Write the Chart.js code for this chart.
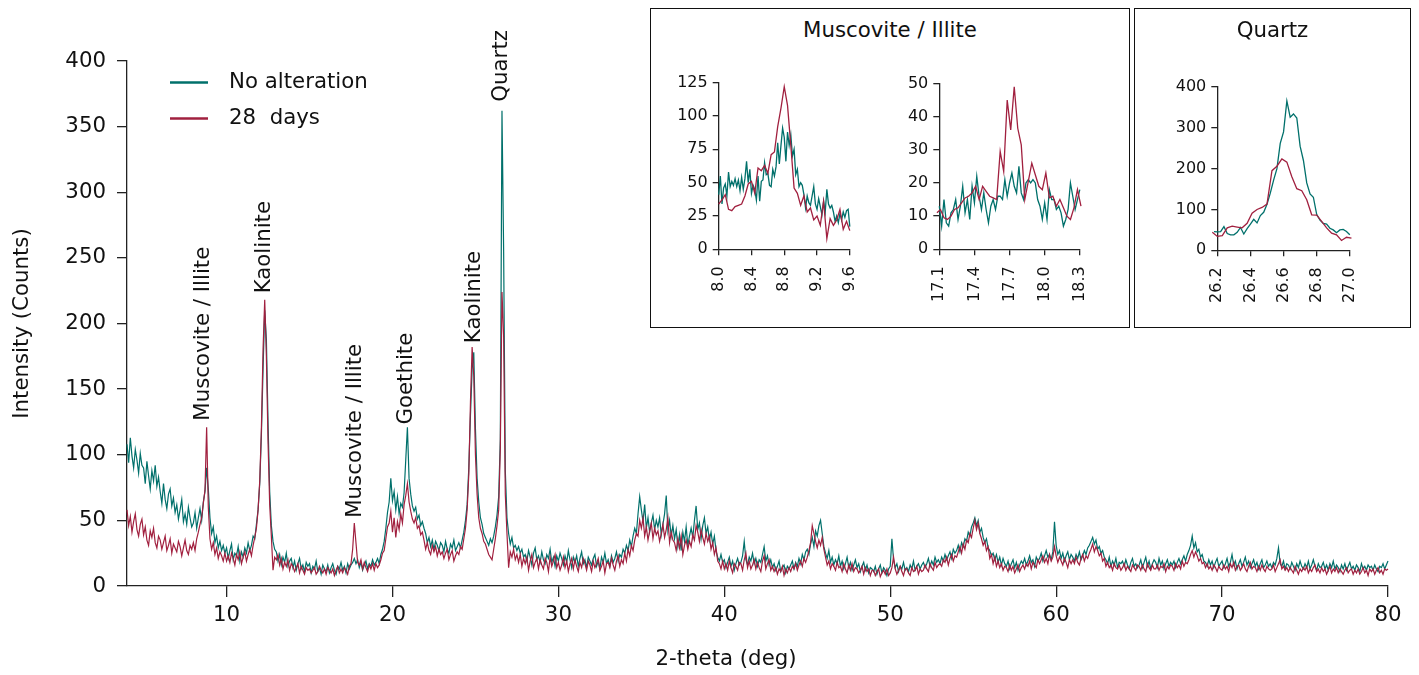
<!DOCTYPE html>
<html>
<head>
<meta charset="utf-8">
<script src="https://cdn.jsdelivr.net/npm/chart.js@4.4.1/dist/chart.umd.min.js"></script>
<style>
  body { margin: 0; background: #fff; font-family: 'DejaVu Sans', sans-serif; }
  canvas { position: absolute; }
  .box { position: absolute; box-sizing: border-box; border: 1.5px solid #111; background: #fff; }
  .box-title { position: absolute; left: 0; right: 0; top: 8px; text-align: center; font-size: 21.3px; line-height: 26px; color: #111; }
</style>
</head>
<body>
<canvas id="main" width="1419" height="675" style="left:0;top:0"></canvas>
<div class="box" style="left:650px;top:8px;width:480px;height:320px"><div class="box-title">Muscovite / Illite</div></div>
<div class="box" style="left:1134px;top:8px;width:277px;height:320px"><div class="box-title">Quartz</div></div>
<canvas id="inset-mi1" width="225" height="260" style="left:655px;top:60px"></canvas>
<canvas id="inset-mi2" width="225" height="260" style="left:885px;top:60px"></canvas>
<canvas id="inset-qz" width="240" height="260" style="left:1140px;top:60px"></canvas>
<script>
const seriesNames = ['No alteration', '28  days'];
const tealColor = '#00706b';
const redColor = '#a1203f';
const textColor = '#111';
const fontFamily = "'DejaVu Sans', sans-serif";

// main scan: 4.0-27.5 and 27.6-80.0, both at 0.1 deg
const lowStart = 4.0, lowStep = 0.1;
const highStart = 27.6, highStep = 0.1;

const noAlterationLow = [
  108,94,113,99,90,104,96,86,101,92,     // 4
  90,78,95,84,74,88,80,92,76,83,         // 5
  72,63,78,66,59,70,74,61,67,56,         // 6
  62,51,58,66,49,55,47,60,52,45,         // 7
  48,56,44,52,59,50,64,72,90,74,         // 8
  52,40,45,33,38,29,34,27,31,25,         // 9
  29,21,27,32,20,25,23,30,19,26,         // 10
  22,29,25,33,27,31,38,36,47,58,         // 11
  78,115,165,210,188,125,72,46,34,28,    // 12
  26,19,24,16,22,18,25,15,19,21,         // 13
  14,19,12,17,21,13,16,11,18,15,         // 14
  17,10,15,13,19,11,14,9,16,13,          // 15
  11,16,10,14,17,12,9,15,13,18,          // 16
  12,15,10,17,13,16,18,21,17,20,         // 17
  14,18,12,16,19,13,17,15,20,16,         // 18
  18,21,17,24,28,34,44,56,64,82,         // 19
  65,72,58,68,55,63,60,71,96,121,        // 20
  82,70,61,57,60,51,54,46,49,44,         // 21
  40,33,37,30,35,28,34,31,27,33,         // 22
  31,26,34,28,25,32,29,35,27,30,         // 23
  33,29,35,41,50,62,90,130,165,178,      // 24
  120,82,64,52,47,40,37,34,31,36,        // 25
  33,38,45,54,68,112,362,255,88,52,      // 26
  40,32,37,29,31,27                      // 27.0-27.5
];
const days28Low = [
  58,46,53,41,49,55,43,38,47,51,         // 4
  39,45,35,31,42,37,44,33,29,38,         // 5
  35,28,33,38,27,31,36,25,32,29,         // 6
  26,34,30,23,29,35,27,24,31,28,         // 7
  33,27,36,41,47,52,63,73,121,60,        // 8
  36,28,33,24,29,21,26,23,19,25,         // 9
  19,23,18,25,21,16,24,20,26,17,         // 10
  22,26,19,24,28,23,31,37,44,58,         // 11
  80,120,180,218,175,110,62,38,12,22,    // 12
  20,24,16,21,13,18,15,20,12,17,         // 13
  15,11,14,17,10,15,12,9,14,12,          // 14
  13,10,12,14,9,11,15,12,10,13,          // 15
  9,14,12,10,13,8,12,15,10,13,           // 16
  10,14,12,9,15,17,28,48,33,18,          // 17
  16,20,13,18,14,11,16,13,17,12,         // 18
  17,14,16,20,25,27,36,45,48,57,         // 19
  41,52,37,49,43,55,48,62,69,78,         // 20
  64,57,51,48,52,44,46,39,41,35,         // 21
  28,33,27,24,31,26,30,23,28,24,         // 22
  26,21,25,28,20,24,27,19,23,26,         // 23
  24,30,28,36,44,58,85,140,182,160,      // 24
  100,70,52,44,40,34,32,28,24,22,        // 25
  20,28,36,46,58,105,224,190,70,40,      // 26
  14,26,22,28,20,24                      // 27.0-27.5
];
const noAlterationHigh = [
  30,25,28,22,                          // 27.6-27.9
  24,19,27,22,16,25,29,20,23,18,        // 28
  26,20,17,24,21,28,18,22,15,23,        // 29
  19,25,21,16,23,18,27,20,14,22,        // 30
  18,23,15,21,26,17,20,14,22,19,        // 31
  16,21,24,15,19,13,22,18,25,17,        // 32
  20,15,23,18,21,26,19,24,22,28,        // 33
  25,31,27,35,30,38,44,40,55,68,        // 34
  58,49,62,44,52,41,48,54,43,50,        // 35
  45,52,39,47,55,69,42,50,38,46,        // 36
  36,43,30,39,27,41,34,45,31,38,        // 37
  44,37,50,61,43,48,36,46,52,40,        // 38
  45,35,41,32,38,27,22,19,24,18,        // 39
  20,14,18,22,15,19,12,17,21,16,        // 40
  18,23,34,20,16,22,19,25,17,21,        // 41
  15,20,18,24,30,19,23,16,20,14,        // 42
  17,12,15,19,11,14,16,10,15,13,        // 43
  16,19,13,18,15,21,17,24,20,26,        // 44
  28,24,32,37,30,42,38,46,50,40,        // 45
  30,25,21,27,18,22,16,20,17,23,        // 46
  15,19,13,17,22,14,18,12,16,20,        // 47
  14,17,11,15,18,12,16,10,14,13,        // 48
  11,15,9,13,16,10,14,12,8,13,          // 49
  15,36,20,14,17,11,15,13,18,12,        // 50
  14,11,16,13,19,12,15,17,13,16,        // 51
  18,14,17,21,15,19,16,22,18,20,        // 52
  17,22,19,24,20,23,26,21,28,25,        // 53
  27,31,26,33,30,36,34,41,38,45,        // 54
  48,52,46,50,41,44,37,33,36,29,        // 55
  27,23,25,20,24,18,22,16,21,17,        // 56
  15,19,13,17,20,14,18,12,16,19,        // 57
  17,21,16,19,23,18,20,15,22,19,        // 58
  21,25,19,23,27,22,24,20,26,49,        // 59
  31,24,27,21,25,19,23,26,20,24,        // 60
  22,19,24,21,26,20,23,27,24,29,        // 61
  31,34,37,32,35,28,30,25,27,22,        // 62
  20,17,22,15,19,16,21,14,18,17,        // 63
  19,15,20,16,13,18,21,15,17,14,        // 64
  16,20,14,18,22,15,19,13,17,20,        // 65
  18,14,21,16,19,13,17,20,15,18,        // 66
  16,19,14,18,21,17,20,23,19,24,        // 67
  27,31,38,29,33,26,28,22,24,19,        // 68
  18,15,20,16,19,14,18,21,15,17,        // 69
  19,14,17,21,15,18,24,16,19,13,        // 70
  17,20,15,18,22,16,19,14,17,20,        // 71
  15,18,13,17,20,14,16,19,15,17,        // 72
  14,18,16,21,29,17,15,19,13,17,        // 73
  16,13,18,15,12,17,14,19,15,13,        // 74
  17,14,19,13,16,20,15,12,17,14,        // 75
  15,18,13,16,12,17,14,19,13,16,        // 76
  14,11,16,13,17,12,15,18,13,15,        // 77
  12,16,14,11,17,13,15,12,16,14,        // 78
  15,12,16,13,11,15,14,17,13,16,        // 79
  19                                    // 80
];
const days28High = [
  18,24,15,21,                          // 27.6-27.9
  17,22,12,19,24,14,18,21,13,20,        // 28
  16,13,21,18,11,22,15,19,24,14,        // 29
  18,12,16,22,14,19,11,17,21,13,        // 30
  20,15,11,18,14,21,17,12,19,16,        // 31
  11,19,14,17,21,12,15,19,10,17,        // 32
  18,14,21,16,12,19,23,15,20,17,        // 33
  25,19,28,23,31,27,35,40,38,50,        // 34
  44,52,38,45,35,42,48,36,44,39,        // 35
  42,34,40,47,37,43,52,33,41,35,        // 36
  33,27,36,29,38,24,31,35,28,34,        // 37
  30,39,35,46,41,34,43,37,32,40,        // 38
  34,38,28,33,24,29,19,17,13,19,        // 39
  13,17,12,19,14,10,17,15,12,18,        // 40
  17,12,20,25,14,19,13,16,20,13,        // 41
  18,14,11,19,23,13,17,20,12,15,        // 42
  11,14,9,13,11,15,8,13,10,14,          // 43
  11,15,13,17,12,16,19,15,21,18,        // 44
  22,27,33,46,40,34,29,35,31,37,        // 45
  28,22,16,19,13,17,15,12,18,14,        // 46
  15,11,17,13,10,16,12,17,11,14,        // 47
  13,10,12,15,9,14,11,13,8,12,          // 48
  12,8,11,13,7,10,12,9,13,8,            // 49
  10,14,22,13,9,12,15,11,8,13,          // 50
  13,10,8,14,11,12,15,9,13,11,          // 51
  12,16,13,11,17,14,12,18,14,16,        // 52
  17,15,20,18,22,16,21,24,19,23,        // 53
  22,26,30,25,32,28,35,33,40,37,        // 54
  44,50,43,48,40,36,31,34,27,30,        // 55
  21,24,17,22,15,19,14,17,12,15,        // 56
  14,11,16,12,15,10,13,16,11,14,        // 57
  16,13,17,15,19,13,18,16,14,20,        // 58
  17,20,23,18,21,17,24,19,22,30,        // 59
  23,18,22,19,16,21,18,14,20,17,        // 60
  20,17,22,18,16,21,24,19,23,21,        // 61
  25,28,32,26,30,27,23,25,19,21,        // 62
  15,18,14,16,12,17,14,13,16,12,        // 63
  14,17,12,15,13,11,16,14,12,16,        // 64
  15,12,16,13,11,17,14,12,16,13,        // 65
  13,16,12,15,14,17,11,15,13,16,        // 66
  15,12,17,14,16,13,19,15,18,17,        // 67
  20,24,27,22,26,23,19,21,17,18,        // 68
  14,17,13,15,12,16,14,11,15,13,        // 69
  12,16,13,15,11,17,14,18,12,15,        // 70
  16,12,14,17,13,11,15,18,13,15,        // 71
  14,11,15,12,16,13,11,15,13,12,        // 72
  13,16,11,14,17,20,13,15,12,14,        // 73
  11,14,12,10,15,12,9,13,11,14,         // 74
  12,15,10,13,11,14,16,11,13,10,        // 75
  14,11,13,9,12,15,10,13,11,14,         // 76
  10,13,11,9,12,14,10,12,13,9,          // 77
  12,10,13,9,11,14,10,12,8,13,          // 78
  11,13,9,12,14,10,12,9,13,12,          // 79
  13                                    // 80
];

const mainXTicks = [10, 20, 30, 40, 50, 60, 70, 80];

// peak annotations (text, 2-theta, intensity where text starts)
const peakNames = ['Muscovite / Illite', 'Kaolinite', 'Muscovite / Illite', 'Goethite', 'Kaolinite', 'Quartz'];
const peakTheta = [8.63, 12.31, 17.79, 20.86, 24.96, 26.58];
const peakLabelBase = [126, 223, 52, 123, 185, 369];

// inset: muscovite / illite 8.0-9.6
const mi1TealStart = 8.00, mi1TealStep = 0.02;
const mi1Teal = [41,55,34,46,49,40,58,47,51,48,53,47,52,44,54,45,53,66,50,60,
  42,48,45,37,55,36,51,52,65,56,57,48,47,60,55,62,80,64,78,91,
  84,66,88,78,86,70,75,56,60,47,50,48,41,31,40,35,33,40,47,34,
  30,38,32,26,36,28,45,34,31,33,28,21,25,20,27,22,28,24,29,30,17];
const mi1RedStart = 8.00, mi1RedStep = 0.04;
const mi1Red = [34,37,41,30,29,32,33,34,40,49,51,42,61,59,63,57,71,73,92,106,
  122,108,78,46,42,33,40,28,31,22,25,18,36,8,23,18,22,30,15,21,14];
const mi1Ticks = [8.0, 8.4, 8.8, 9.2, 9.6];

// inset: muscovite / illite 17.1-18.3
const mi2TealStart = 17.10, mi2TealStep = 0.02;
const mi2Teal = [13,7,15,8,7,11,12,15,9,13,19,11,15,9,19,14,22,16,12,17,
  12,8,13,15,12,16,16,15,21,16,20,23,19,17,25,17,15,20,21,20,
  21,20,15,13,9,14,9,18,15,15,12,13,11,7,9,12,20,16,12,15,18,19];
const mi2RedStart = 17.08, mi2RedStep = 0.03;
const mi2Red = [11,12,9.5,9,10,12,12.5,14,15.5,16,17,19,15,19,17.5,16,15.5,15,29.5,23.5,
  45,36,49,36.5,31.5,15,20.5,26,22.5,19,18,23,15.5,16,13,15,12.5,10,9,12.5,18,13];
const mi2Ticks = [17.1, 17.4, 17.7, 18.0, 18.3];

// inset: quartz 26.2-27.0
const qzTealStart = 26.18, qzTealStep = 0.02;
const qzTeal = [46,45,46,58,41,38,38,44,56,40,53,64,76,67,85,93,113,140,172,200,
  262,290,366,326,334,324,255,220,165,138,130,88,74,66,64,54,50,43,50,51,46,38,36];
const qzRedStart = 26.17, qzRedStep = 0.03;
const qzRed = [44,34,36,55,59,57,55,66,91,100,105,113,195,206,224,216,180,151,146,124,
  87,86,71,55,42,38,24,32,30];
const qzTicks = [26.2, 26.4, 26.6, 26.8, 27.0];

function scanPoints(start, step, values) {
  return values.map((y, i) => ({ x: +(start + i * step).toFixed(2), y }));
}

function lineSet(label, color, data, order, width) {
  return {
    label, data, order,
    borderColor: color,
    borderWidth: width,
    pointRadius: 0,
    tension: 0,
    fill: false,
    clip: false
  };
}

const axisStyle = {
  grid: { display: true, drawOnChartArea: false, drawTicks: true, color: '#222', lineWidth: 1.3 },
  border: { display: true, color: '#222', width: 1.3 }
};

// rotated text labels above peaks
const peakLabelPlugin = {
  id: 'peakLabels',
  afterDatasetsDraw(chart) {
    const { ctx, scales: { x, y } } = chart;
    ctx.save();
    ctx.fillStyle = textColor;
    ctx.font = `21.3px ${fontFamily}`;
    ctx.textAlign = 'left';
    ctx.textBaseline = 'middle';
    peakNames.forEach((name, i) => {
      ctx.save();
      ctx.translate(x.getPixelForValue(peakTheta[i]), y.getPixelForValue(peakLabelBase[i]));
      ctx.rotate(-Math.PI / 2);
      ctx.fillText(name, 0, 0);
      ctx.restore();
    });
    ctx.restore();
  }
};

// legend in upper left of plot + x axis title
const legendPlugin = {
  id: 'sideLegend',
  afterDraw(chart) {
    const { ctx } = chart;
    const colors = [tealColor, redColor];
    ctx.save();
    ctx.font = `21.3px ${fontFamily}`;
    ctx.textBaseline = 'middle';
    seriesNames.forEach((name, i) => {
      const yy = 82.5 + i * 36;
      ctx.strokeStyle = colors[i];
      ctx.lineWidth = 2.5;
      ctx.beginPath();
      ctx.moveTo(170, yy);
      ctx.lineTo(208, yy);
      ctx.stroke();
      ctx.fillStyle = textColor;
      ctx.fillText(name, 229, yy);
    });
    ctx.textAlign = 'center';
    ctx.fillText('2-theta (deg)', 726, 659);
    ctx.restore();
  }
};

new Chart(document.getElementById('main'), {
  type: 'line',
  data: {
    datasets: [
      lineSet(seriesNames[0], tealColor,
        scanPoints(lowStart, lowStep, noAlterationLow).concat(scanPoints(highStart, highStep, noAlterationHigh)), 2, 1.2),
      lineSet(seriesNames[1], redColor,
        scanPoints(lowStart, lowStep, days28Low).concat(scanPoints(highStart, highStep, days28High)), 1, 1.2)
    ]
  },
  options: {
    responsive: false,
    devicePixelRatio: 1,
    animation: false,
    layout: { padding: { top: 61, right: 31, left: 0, bottom: 0 } },
    plugins: { legend: { display: false }, tooltip: { enabled: false } },
    scales: {
      x: {
        type: 'linear', min: 4, max: 80,
        afterBuildTicks: s => { s.ticks = mainXTicks.map(v => ({ value: v })); },
        afterFit: s => { s.height = 89; },
        ticks: { color: textColor, font: { family: fontFamily, size: 21.3 }, padding: 6, maxRotation: 0 },
        grid: { ...axisStyle.grid, tickLength: 11 },
        border: axisStyle.border
      },
      y: {
        min: 0, max: 400,
        afterFit: s => { s.width = 127; },
        ticks: { stepSize: 50, color: textColor, font: { family: fontFamily, size: 21.3 }, padding: 11 },
        grid: { ...axisStyle.grid, tickLength: 10 },
        border: axisStyle.border,
        title: { display: true, text: 'Intensity (Counts)', color: textColor, font: { family: fontFamily, size: 21.3 }, padding: { top: 10, bottom: 0 } }
      }
    }
  },
  plugins: [peakLabelPlugin, legendPlugin]
});

// inset chart; area = wanted plot rectangle in page pixels, box = canvas rectangle
function makeInset(id, box, area, tealPts, redPts, xRange, xTicks, yMax, yStep) {
  new Chart(document.getElementById(id), {
    type: 'line',
    data: {
      datasets: [
        lineSet(seriesNames[0], tealColor, tealPts, 2, 1.3),
        lineSet(seriesNames[1], redColor, redPts, 1, 1.3)
      ]
    },
    options: {
      responsive: false,
      devicePixelRatio: 1,
      animation: false,
      layout: { padding: { top: area.top - box.top, right: box.left + box.width - area.right, left: 0, bottom: 0 } },
      plugins: { legend: { display: false }, tooltip: { enabled: false } },
      scales: {
        x: {
          type: 'linear', min: xRange[0], max: xRange[1],
          afterBuildTicks: s => { s.ticks = xTicks.map(v => ({ value: v })); },
          afterFit: s => { s.height = box.top + box.height - area.bottom; },
          ticks: { color: textColor, font: { family: fontFamily, size: 16 }, padding: 11, minRotation: 90, maxRotation: 90,
                   callback: v => Number(v).toFixed(1) },
          grid: { ...axisStyle.grid, tickLength: 6 },
          border: axisStyle.border
        },
        y: {
          min: 0, max: yMax,
          afterFit: s => { s.width = area.left - box.left; },
          ticks: { stepSize: yStep, color: textColor, font: { family: fontFamily, size: 16 }, padding: 5 },
          grid: { ...axisStyle.grid, tickLength: 6 },
          border: axisStyle.border
        }
      }
    }
  });
}

makeInset('inset-mi1', { left: 655, top: 60, width: 225, height: 260 },
  { left: 718.7, top: 82.7, right: 866, bottom: 249.3 },
  scanPoints(mi1TealStart, mi1TealStep, mi1Teal), scanPoints(mi1RedStart, mi1RedStep, mi1Red),
  [8.0, 9.6], mi1Ticks, 125, 25);

makeInset('inset-mi2', { left: 885, top: 60, width: 225, height: 260 },
  { left: 939.3, top: 83.5, right: 1090, bottom: 249.3 },
  scanPoints(mi2TealStart, mi2TealStep, mi2Teal), scanPoints(mi2RedStart, mi2RedStep, mi2Red),
  [17.1, 18.3], mi2Ticks, 50, 10);

makeInset('inset-qz', { left: 1140, top: 60, width: 240, height: 260 },
  { left: 1217.3, top: 87, right: 1362.3, bottom: 250.3 },
  scanPoints(qzTealStart, qzTealStep, qzTeal), scanPoints(qzRedStart, qzRedStep, qzRed),
  [26.2, 27.0], qzTicks, 400, 100);
</script>
</body>
</html>
